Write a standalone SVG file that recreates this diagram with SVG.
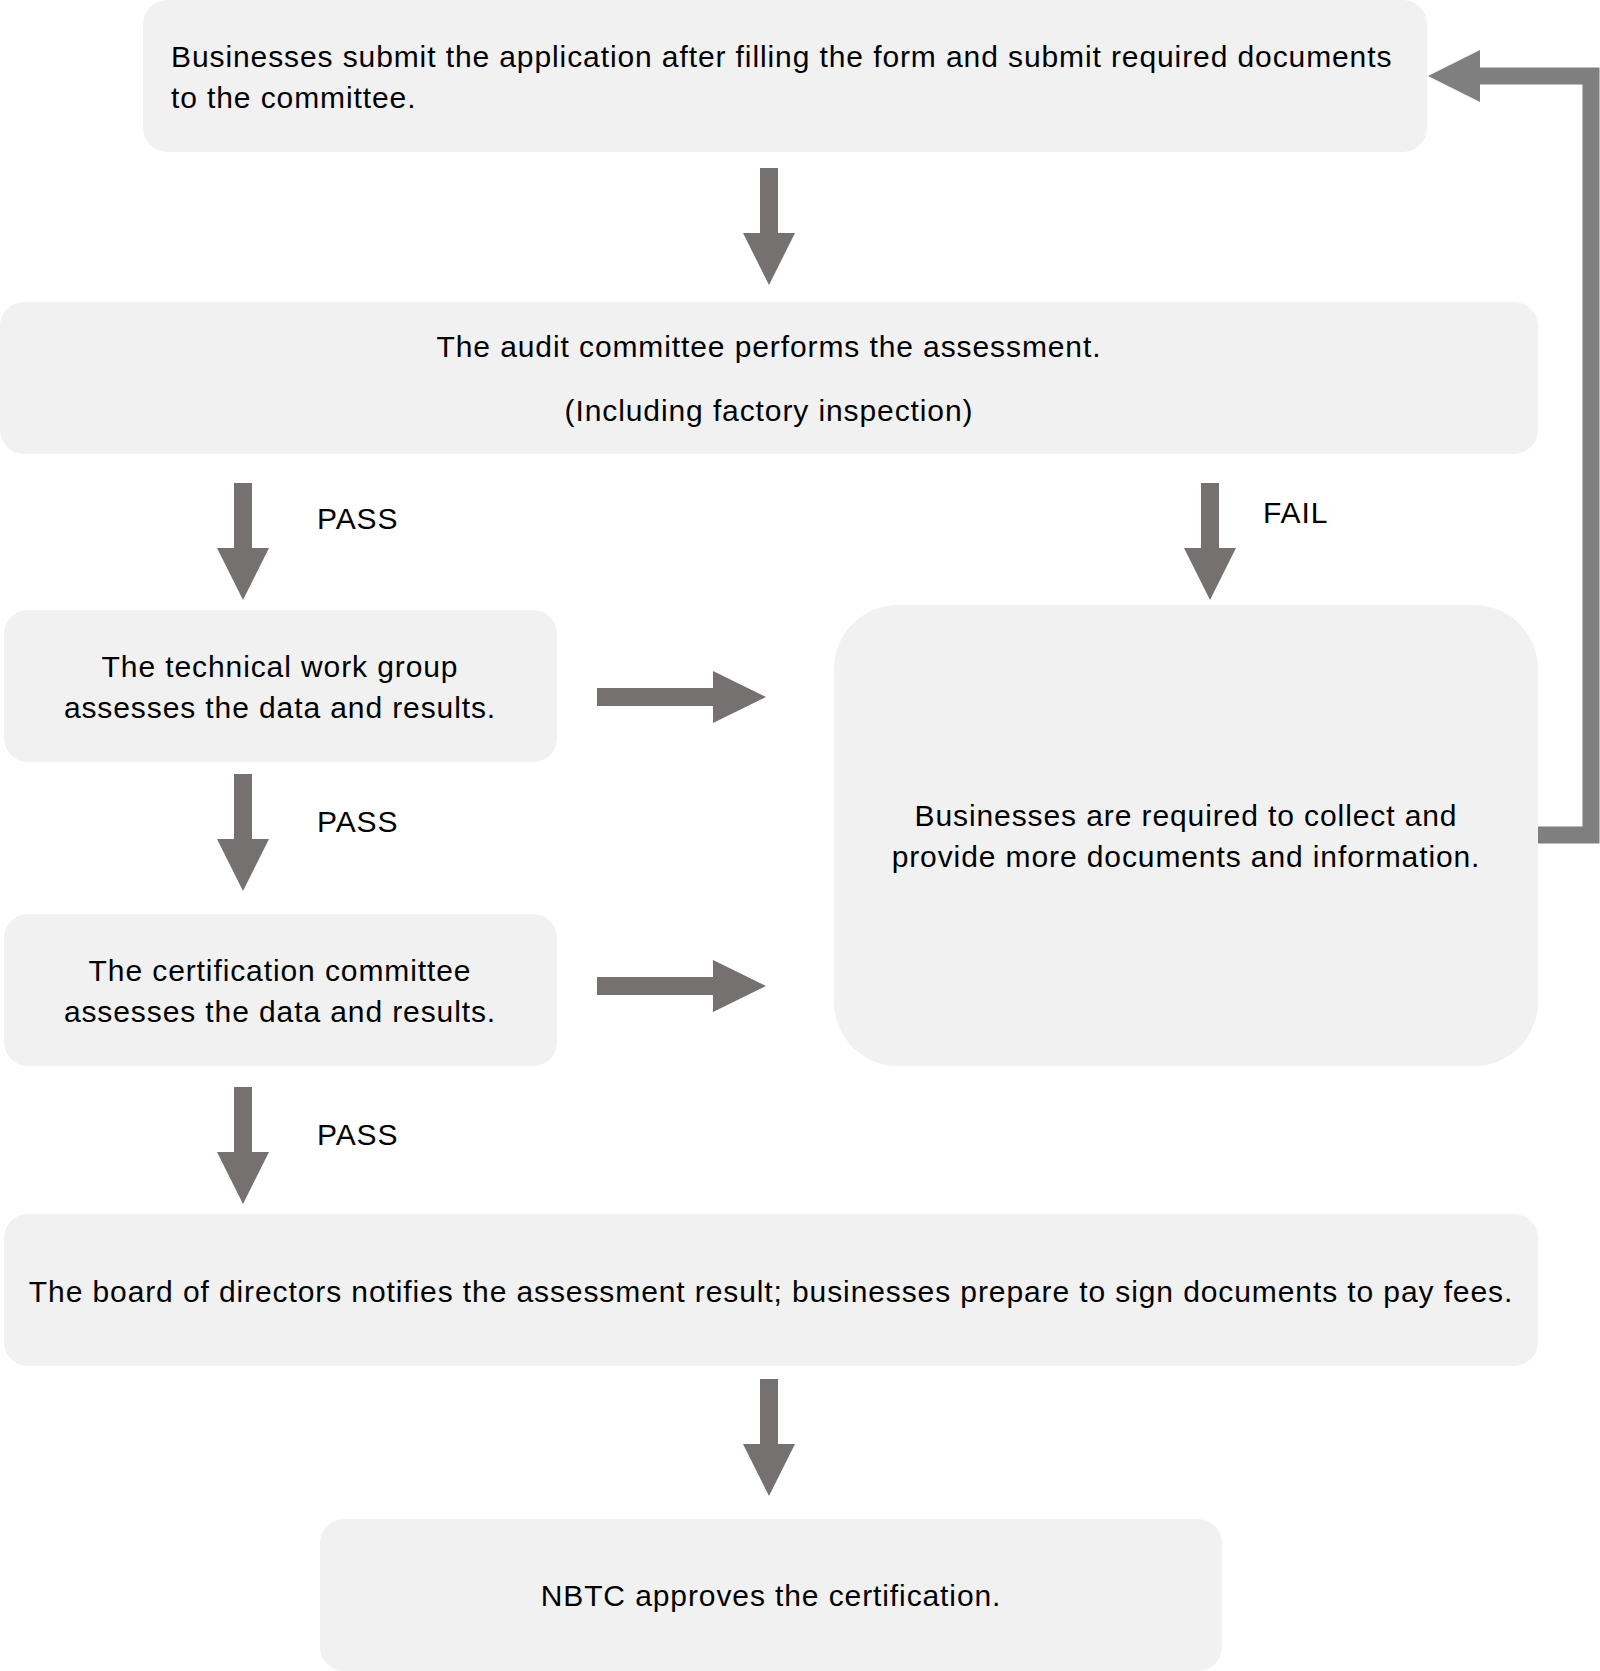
<svg xmlns="http://www.w3.org/2000/svg" width="1600" height="1671" viewBox="0 0 1600 1671">
<style>
.box{fill:#f1f1f1}
.t{font-family:"Liberation Sans",Arial,sans-serif;font-size:30px;letter-spacing:0.9px;fill:#000}
.c{text-anchor:middle}
.arr{fill:#767171}
</style>
<defs>
<path id="down" d="M-9,0 H9 V65 H26 L0,117 L-26,65 H-9 Z"/>
<path id="right" d="M0,-9 V9 H116 V26 L169,0 L116,-26 V-9 Z"/>
</defs>
<rect width="1600" height="1671" fill="#fff"/>
<g id="n1"><rect class="box" x="143" y="0" width="1284" height="152" rx="24"/>
<text class="t" x="171" y="67">Businesses submit the application after filling the form and submit required documents</text>
<text class="t" x="171" y="108">to the committee.</text></g>
<g id="n2"><rect class="box" x="0" y="302" width="1538" height="152" rx="24"/>
<text class="t c" x="769" y="357">The audit committee performs the assessment.</text>
<text class="t c" x="769" y="421">(Including factory inspection)</text></g>
<g id="n3"><rect class="box" x="4" y="610" width="553" height="152" rx="24"/>
<text class="t c" x="280" y="677">The technical work group</text>
<text class="t c" x="280" y="718">assesses the data and results.</text></g>
<g id="n4"><rect class="box" x="834" y="605" width="704" height="461" rx="64"/>
<text class="t c" x="1186" y="826">Businesses are required to collect and</text>
<text class="t c" x="1186" y="867">provide more documents and information.</text></g>
<g id="n5"><rect class="box" x="4" y="914" width="553" height="152" rx="24"/>
<text class="t c" x="280" y="981">The certification committee</text>
<text class="t c" x="280" y="1022">assesses the data and results.</text></g>
<g id="n6"><rect class="box" x="4" y="1214" width="1534" height="152" rx="24"/>
<text class="t c" x="771" y="1302">The board of directors notifies the assessment result; businesses prepare to sign documents to pay fees.</text></g>
<g id="n7"><rect class="box" x="320" y="1519" width="902" height="152" rx="24"/>
<text class="t c" x="771" y="1606">NBTC approves the certification.</text></g>
<g id="connectors">
<use href="#down" class="arr" x="769" y="168"/>
<use href="#down" class="arr" x="243" y="483"/>
<use href="#down" class="arr" x="1210" y="483"/>
<use href="#down" class="arr" x="243" y="774"/>
<use href="#down" class="arr" x="243" y="1087"/>
<use href="#down" class="arr" x="769" y="1379"/>
<use href="#right" class="arr" x="597" y="697"/>
<use href="#right" class="arr" x="597" y="986"/>
<path d="M1538,835 H1591 V76 H1475" fill="none" stroke="#7f7f7f" stroke-width="17"/>
<path d="M1428,76 L1480,50 V102 Z" fill="#7f7f7f"/>
<text class="t" x="317" y="529">PASS</text>
<text class="t" x="1263" y="523">FAIL</text>
<text class="t" x="317" y="832">PASS</text>
<text class="t" x="317" y="1145">PASS</text>
</g>
</svg>
